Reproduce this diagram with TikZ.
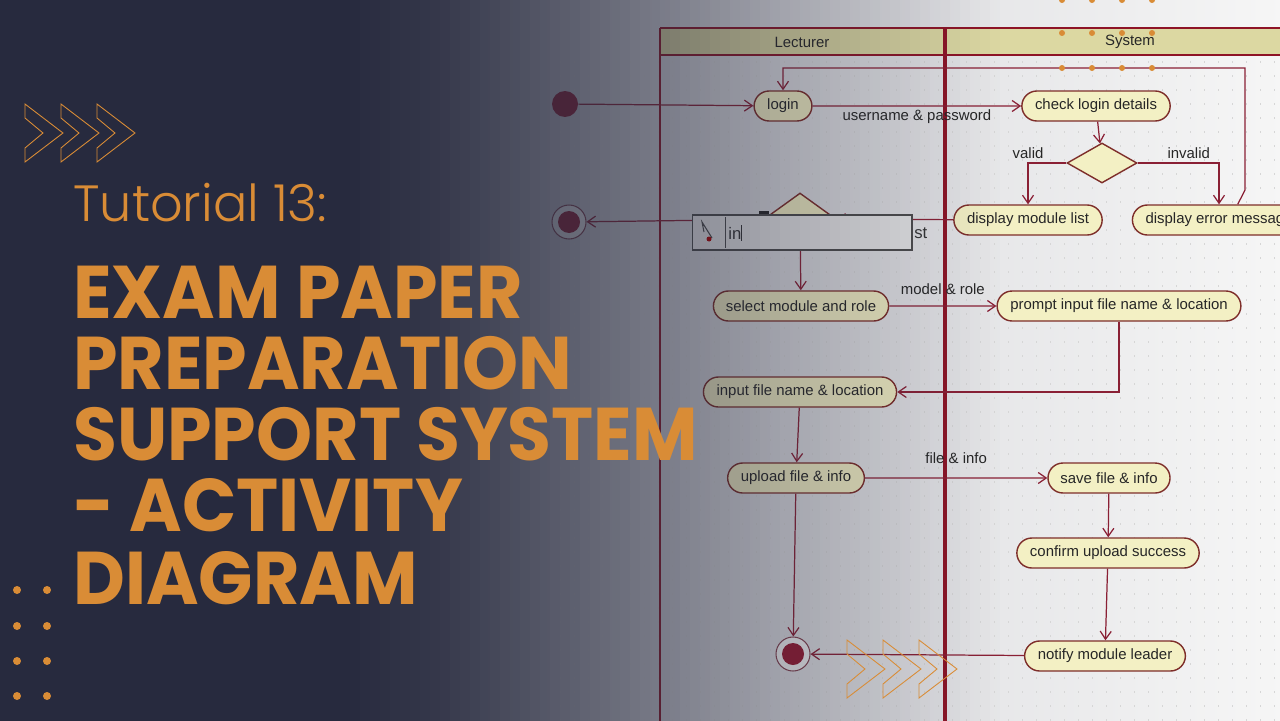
\documentclass[tikz,border=0pt]{standalone}
\usepackage{fontspec}
\setmainfont{Liberation Sans}
\IfFontExistsTF{Poppins Light}{\newfontfamily\tutfont{Poppins Light}}{\newfontfamily\tutfont{Poppins}}
\newfontfamily\headfont{Poppins}
\usetikzlibrary{positioning,arrows.meta,shapes.geometric,shapes.misc}
\definecolor{navy}{HTML}{272A3E}
\definecolor{accent}{HTML}{D98C36}
\definecolor{lane}{HTML}{8E1426}
\definecolor{flow}{HTML}{8A2035}
\definecolor{dotfill}{HTML}{961A30}
\definecolor{actfill}{HTML}{F3F0C4}
\definecolor{actline}{HTML}{7E2E2A}
\definecolor{headfill}{HTML}{DCD8A2}
\definecolor{shotleft}{HTML}{C6C7CD}
\definecolor{shotright}{HTML}{F6F6F6}
\tikzset{>={Straight Barb[length=1.6mm,width=2.2mm]},
flowline/.style={->,draw=flow,line width=0.7pt,auto},
act/.style={rounded rectangle,draw=actline,fill=actfill,line width=0.8pt,
  minimum height=0.6cm,inner xsep=6.5pt,inner ysep=2pt,
  font=\fontsize{8.5}{10}\selectfont,text=black!85},
dec/.style={diamond,draw=actline,fill=actfill,line width=0.8pt,inner sep=0pt,
  minimum width=1.4cm,minimum height=0.8cm},
el/.style={font=\fontsize{8.5}{10}\selectfont,text=black!85,inner sep=2pt},
initnode/.style={circle,fill=dotfill,minimum size=0.52cm,inner sep=0pt},
finalnode/.style={circle,draw=flow!60!gray,line width=0.6pt,fill=white!90!gray,
  minimum size=0.68cm,inner sep=0pt,
  path picture={\fill[dotfill] (path picture bounding box.center) circle (0.22cm);}},
editbox/.style={rectangle,draw=gray!60!black,fill=gray!18,line width=0.6pt,
  minimum width=4.4cm,minimum height=0.7cm,inner sep=0pt},
chev/.style={draw=accent,line width=0.5pt},
griddot/.style={draw=black!16,line width=0.6pt,dash pattern=on 0.6pt off 7.37pt},
tut/.style={text=accent,font=\tutfont\fontsize{29}{32}\selectfont,inner sep=0pt},
headline/.style={text=accent,font=\headfont\bfseries\fontsize{42.5}{48}\selectfont,inner sep=0pt},
}
\begin{document}
\begin{tikzpicture}[x=0.02cm,y=-0.02cm]
\clip (0,0) rectangle (1280,720);
% backdrop and screenshot
\fill[navy] (-5,-5) rectangle (1285,725);
\shade[left color=shotleft,right color=shotright] (340,-5) rectangle (1285,725);
\foreach \gy in {62,76,...,720}
  \draw[griddot] (560,\gy) -- (1280,\gy);

% swimlanes
\fill[headfill] (660,28) rectangle (1280,55);
\draw[lane,line width=1.1pt] (660,725) -- (660,28);
\draw[lane,line width=1.6pt] (660,28) -- (1280,28);
\draw[lane,line width=1.6pt] (660,55) -- (1280,55);
\draw[lane,line width=2.8pt] (945,28) -- (945,725);
\node[el] (lecturer) at (802,42) {Lecturer};
\node[el] (system) at (1130,42) {System};

% activities
\node[initnode] (init) at (565,104) {};
\node[act] (login) at (783,106) {login};
\node[act] (check) at (1096,106) {check login details};
\node[dec] (chk) at (1102,163) {};
\node[act] (modlist) at (1028,220) {display module list};
\node[act] (errmsg) at (1219,220) {display error message};
\node[finalnode] (exit) at (569,222) {};
\node[dec,minimum width=1.44cm,minimum height=1.04cm] (choose) at (800,219) {};
\node[act] (select) at (801,306) {select module and role};
\node[act] (prompt) at (1119,306) {prompt input file name \& location};
\node[act] (input) at (800,392) {input file name \& location};
\node[act] (upload) at (796,478) {upload file \& info};
\node[act] (save) at (1109,478) {save file \& info};
\node[act] (confirm) at (1108,553) {confirm upload success};
\node[act] (notify) at (1105,656) {notify module leader};
\node[finalnode] (done) at (793,654) {};

\path[flowline]
(init) edge (login)
(login) edge node[el,swap] {username \& password} (check)
(check) edge (chk)
(modlist) edge (choose)
(choose) edge (exit)
(choose) edge (select)
(select) edge node[el,yshift=4pt] {model \& role} (prompt)
(input) edge (upload)
(upload) edge node[el,yshift=6pt] {file \& info} (save)
(upload) edge (done)
(save) edge (confirm)
(confirm) edge (notify)
(notify) edge (done)
;
\draw[flowline] (chk.west) -| node[el,pos=0.5,above] {valid} (modlist);
\draw[flowline] (chk.east) -| node[el,pos=0.5,above left,xshift=-0.1cm] {invalid} (errmsg);
\draw[flowline] (errmsg.40) -- (1245,190) -- (1245,68) -| (login);
\draw[flowline] (prompt.south) |- (input);
\fill[black!85] (759,211) rectangle (769,216);

% inline editor over the decision
\node[editbox] (editor) at (802,232.5) {};
\draw[gray!60!black,line width=0.5pt] (725,217) -- (725,248);
\draw[black!70,line width=0.6pt] (712,238) -- (702,222) -- (704,232);
\fill[red!70!black] (709,239) circle (0.05cm);
\node[anchor=west,font=\fontsize{9.5}{11}\selectfont,text=black!80,inner sep=0pt]
  (typed) at (728,233) {in\rule[-1pt]{0.4pt}{9pt}};
\node[anchor=west,font=\fontsize{9.5}{11}\selectfont,text=black!80,inner sep=0pt]
  (tail) at (914,233) {st};

% darken towards the title panel
\foreach \i in {0,...,65} {
  \pgfmathsetmacro\gx{345+\i*10}
  \pgfmathsetmacro\op{\gx<=440 ? 1-(\gx-340)*0.0009 : (\gx<=790 ? 0.91-(\gx-440)*0.00172 : 0.31*(1000-\gx)/210)}
  \fill[navy,opacity=\op] (340+\i*10,-5) rectangle (350+\i*10,725);
}

% title
\node[tut,anchor=base west] (tutorial) at (73,221) {Tutorial 13:};
\node[headline,anchor=base west] (line1) at (73,318) {\scalebox{0.955}[1]{EXAM PAPER}};
\node[headline,anchor=base west] (line2) at (73,389) {\scalebox{0.955}[1]{PREPARATION}};
\node[headline,anchor=base west] (line3) at (73,460) {\scalebox{0.955}[1]{SUPPORT SYSTEM}};
\node[headline,anchor=base west] (line4) at (73,531) {\scalebox{0.955}[1]{- ACTIVITY}};
\node[headline,anchor=base west] (line5) at (73,604) {\scalebox{0.955}[1]{DIAGRAM}};

% ornaments
\foreach \cx in {25,61,97}
  \draw[chev] (\cx,104) -- ++(38,29) -- ++(-38,29) -- ++(0,-14) -- ++(18,-15) -- ++(-18,-15) -- cycle;
\foreach \cx in {847,883,919}
  \draw[chev] (\cx,640) -- ++(38,29) -- ++(-38,29) -- ++(0,-14) -- ++(18,-15) -- ++(-18,-15) -- cycle;
\foreach \dx in {1062,1092,1122,1152}
  \foreach \dy in {0,33,68}
    \fill[accent] (\dx,\dy) circle (0.06cm);
\foreach \dx in {17,47}
  \foreach \dy in {590,626,661,696}
    \fill[accent] (\dx,\dy) circle (0.08cm);
\end{tikzpicture}
\end{document}
